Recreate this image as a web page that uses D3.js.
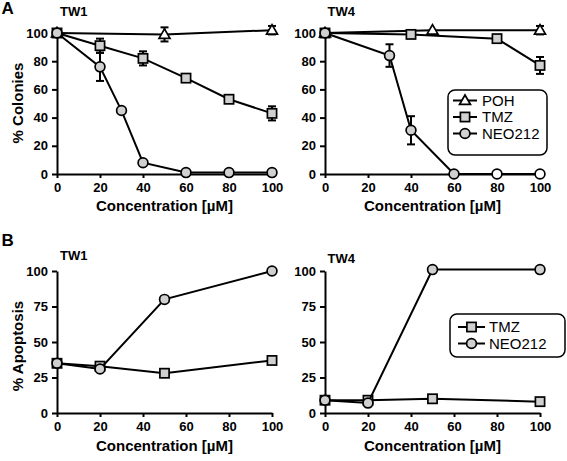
<!DOCTYPE html>
<html><head><meta charset="utf-8">
<script src="https://cdn.jsdelivr.net/npm/d3@7"></script>
<style>
body{margin:0;background:#fff}
svg{display:block;font-family:"Liberation Sans",Arial,Helvetica,sans-serif}
</style></head>
<body><svg id="c" width="567" height="461"></svg>
<script>
// ---------- data ----------
const xTicks = [0, 20, 40, 60, 80, 100];
const yTicksA = [0, 20, 40, 60, 80, 100];
const yTicksB = [0, 25, 50, 75, 100];

// Panel A, TW1
const a1_POH_x = [0, 50, 100], a1_POH_y = [100, 99, 102], a1_POH_e = [0, 5, 3];
const a1_TMZ_x = [0, 20, 40, 60, 80, 100], a1_TMZ_y = [100, 91, 82, 68, 53, 43], a1_TMZ_e = [0, 5, 5, 0, 0, 5];
const a1_NEO_x = [0, 20, 30, 40, 60, 80, 100], a1_NEO_y = [100, 76, 45, 8, 1, 1, 1], a1_NEO_e = [0, 10, 0, 0, 0, 0, 0];
// Panel A, TW4
const a4_POH_x = [0, 50, 100], a4_POH_y = [100, 102, 102], a4_POH_e = [0, 0, 3];
const a4_TMZ_x = [0, 40, 80, 100], a4_TMZ_y = [100, 99, 96, 77], a4_TMZ_e = [0, 0, 0, 6];
const a4_NEO_x = [0, 30, 40, 60, 80, 100], a4_NEO_y = [100, 84, 31, 0, 0, 0], a4_NEO_e = [0, 8, 10, 0, 0, 0];
const a4_NEO_open = [80, 100]; // concentrations drawn with open (white) circles
// Panel B
const b_x = [0, 20, 50, 100];
const b1_TMZ = [35, 33, 28, 37], b1_NEO = [35, 31, 80, 100];
const b4_TMZ = [9, 9, 10, 8],    b4_NEO = [9, 7, 101, 101];

const legendA = ["POH", "TMZ", "NEO212"];
const legendB = ["TMZ", "NEO212"];

// ---------- drawing ----------
const svg = d3.select("#c");
const GRAY = "#d0d0d0";
const FONT = '"Liberation Sans",Arial,Helvetica,sans-serif';

const xL = d3.scaleLinear().domain([0, 100]).range([57, 272]);
const xR = d3.scaleLinear().domain([0, 100]).range([325, 540]);
const yA = d3.scaleLinear().domain([0, 100]).range([174, 33]);
const yB = d3.scaleLinear().domain([0, 100]).range([413, 271]);

function axes(x, y, yticks) {
  const gx = svg.append("g").attr("transform", `translate(0,${y(0)})`)
    .call(d3.axisBottom(x).tickValues(xTicks).tickSize(4).tickPadding(5).tickSizeOuter(0));
  const gy = svg.append("g").attr("transform", `translate(${x(0)},0)`)
    .call(d3.axisLeft(y).tickValues(yticks).tickSize(5).tickPadding(4).tickSizeOuter(0));
  [gx, gy].forEach(g => {
    g.select(".domain").attr("stroke", "#000").attr("stroke-width", 2);
    g.selectAll(".tick line").attr("stroke", "#000").attr("stroke-width", 2);
    g.selectAll(".tick text").attr("fill", "#000")
      .style("font-family", FONT).style("font-size", "13px").style("font-weight", "bold");
  });
}

function marker(g, shape, cx, cy, fill) {
  if (shape === "circle") {
    g.append("circle").attr("cx", cx).attr("cy", cy).attr("r", 4.9)
      .attr("fill", fill).attr("stroke", "#000").attr("stroke-width", 1.7);
  } else if (shape === "square") {
    g.append("rect").attr("x", cx - 4.6).attr("y", cy - 4.6).attr("width", 9.2).attr("height", 9.2)
      .attr("fill", fill).attr("stroke", "#000").attr("stroke-width", 1.7);
  } else {
    g.append("path").attr("d", d3.symbol(d3.symbolTriangle, 52)())
      .attr("transform", `translate(${cx},${cy + 0.8})`)
      .attr("fill", fill).attr("stroke", "#000").attr("stroke-width", 1.7);
  }
}

function series(x, y, xs, ys, es, shape, fillFn) {
  const g = svg.append("g");
  const pts = xs.map((v, i) => [v, ys[i], es ? es[i] : 0]);
  g.append("path").datum(pts)
    .attr("d", d3.line().x(d => x(d[0])).y(d => y(d[1])))
    .attr("fill", "none").attr("stroke", "#000").attr("stroke-width", 2);
  pts.forEach(d => {
    if (d[2] > 0) {
      const px = x(d[0]), y1 = y(d[1] - d[2]), y2 = y(d[1] + d[2]);
      g.append("line").attr("x1", px).attr("x2", px).attr("y1", y1).attr("y2", y2)
        .attr("stroke", "#000").attr("stroke-width", 2);
      [y1, y2].forEach(yy => g.append("line").attr("x1", px - 4).attr("x2", px + 4)
        .attr("y1", yy).attr("y2", yy).attr("stroke", "#000").attr("stroke-width", 2));
    }
  });
  pts.forEach(d => marker(g, shape, x(d[0]), y(d[1]), fillFn(d[0])));
}

function text(x, y, s, size, weight, anchor, rot) {
  const t = svg.append("text").attr("x", x).attr("y", y).text(s)
    .style("font-family", FONT).style("font-size", size + "px").style("font-weight", weight)
    .attr("text-anchor", anchor || "start").attr("fill", "#000");
  if (rot) t.attr("transform", `rotate(${rot},${x},${y})`);
  return t;
}

function legend(x0, y0, w, h, items, shapes, rowY, lineX0, lineX1, textX) {
  const g = svg.append("g");
  g.append("rect").attr("x", x0).attr("y", y0).attr("width", w).attr("height", h)
    .attr("rx", 7).attr("fill", "#fff").attr("stroke", "#000").attr("stroke-width", 1.5);
  items.forEach((name, i) => {
    const yy = rowY[i];
    g.append("line").attr("x1", lineX0).attr("x2", lineX1).attr("y1", yy).attr("y2", yy)
      .attr("stroke", "#000").attr("stroke-width", 2);
    marker(g, shapes[i], (lineX0 + lineX1) / 2, yy, shapes[i] === "triangle" ? "#fff" : GRAY);
    g.append("text").attr("x", textX).attr("y", yy + 5.3).text(name)
      .style("font-family", FONT).style("font-size", "15px").attr("fill", "#000");
  });
}

// Panel A
axes(xL, yA, yTicksA);
axes(xR, yA, yTicksA);
series(xL, yA, a1_POH_x, a1_POH_y, a1_POH_e, "triangle", () => "#fff");
series(xL, yA, a1_TMZ_x, a1_TMZ_y, a1_TMZ_e, "square", () => GRAY);
series(xL, yA, a1_NEO_x, a1_NEO_y, a1_NEO_e, "circle", () => GRAY);
series(xR, yA, a4_POH_x, a4_POH_y, a4_POH_e, "triangle", () => "#fff");
series(xR, yA, a4_TMZ_x, a4_TMZ_y, a4_TMZ_e, "square", () => GRAY);
series(xR, yA, a4_NEO_x, a4_NEO_y, a4_NEO_e, "circle", c => a4_NEO_open.includes(c) ? "#fff" : GRAY);
legend(448, 90, 99, 65, legendA, ["triangle", "square", "circle"], [100.5, 117, 133.5], 453, 477, 482);

// Panel B
axes(xL, yB, yTicksB);
axes(xR, yB, yTicksB);
series(xL, yB, b_x, b1_TMZ, null, "square", () => GRAY);
series(xL, yB, b_x, b1_NEO, null, "circle", () => GRAY);
series(xR, yB, b_x, b4_TMZ, null, "square", () => GRAY);
series(xR, yB, b_x, b4_NEO, null, "circle", () => GRAY);
legend(450, 314, 115, 43, legendB, ["square", "circle"], [327, 343.5], 458, 485, 489);

// Texts
text(1.5, 14, "A", 17, "bold");
text(1.5, 246, "B", 17, "bold");
text(60, 16, "TW1", 13, "bold");
text(327.5, 16, "TW4", 13, "bold");
text(60, 260, "TW1", 13, "bold");
text(327.5, 263, "TW4", 13, "bold");
text(164.5, 211, "Concentration [µM]", 15, "bold", "middle");
text(432.5, 211, "Concentration [µM]", 15, "bold", "middle");
text(164.5, 451, "Concentration [µM]", 15, "bold", "middle");
text(432.5, 451, "Concentration [µM]", 15, "bold", "middle");
text(23, 103, "% Colonies", 15, "bold", "middle", -90);
text(23, 346, "% Apoptosis", 15, "bold", "middle", -90);
</script></body></html>
